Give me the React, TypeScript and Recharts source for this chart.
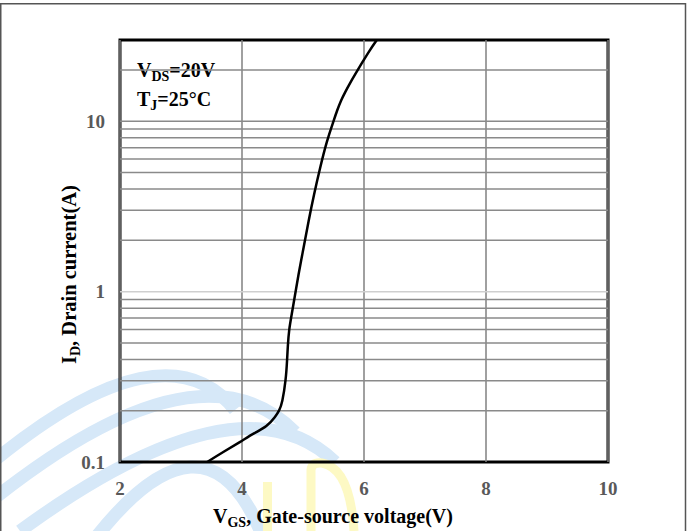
import React from 'react';
import { LineChart, Line, XAxis, YAxis, ReferenceLine, ReferenceArea } from 'recharts';

// Transfer characteristic: VGS (V) vs ID (A)
const vgs = [3.43, 3.7, 3.97, 4.2, 4.41, 4.55, 4.61, 4.66, 4.72, 4.74, 4.75, 4.77, 4.82, 4.93, 5.01, 5.09, 5.18, 5.28, 5.39, 5.5, 5.56, 5.62, 5.69, 5.76, 5.86, 5.97, 6.09, 6.21];
const idA = [0.1, 0.115, 0.131, 0.148, 0.161, 0.185, 0.2, 0.222, 0.304, 0.4, 0.474, 0.6, 0.75, 1.29, 1.81, 2.59, 3.72, 5.34, 7.66, 10, 11.6, 13.2, 14.8, 16.5, 19, 22.1, 26, 30];

const xTicks = [2, 4, 6, 8, 10];
const yTicks = [0.1, 1, 10];
const yGridDark = [0.2, 0.3, 0.4, 0.5, 0.6, 0.7, 0.8, 0.9, 2, 3, 4, 5, 6, 7, 8, 9, 10, 20];
const yGridLight = [1];

const data = vgs.map((v, i) => ({ v, id: idA[i] }));

const FONT = "'Liberation Serif', 'Times New Roman', serif";
const tickStyle = { fill: '#595959', fontWeight: 'bold' as const, fontSize: 19, fontFamily: FONT };

const XTitle = () => (
  <text x={213} y={523} fontFamily={FONT} fontWeight="bold" fontSize={20} fill="#000" textAnchor="start">
    V<tspan fontSize={14} dy={4}>GS</tspan>
    <tspan fontSize={20} dy={-4}>, Gate-source voltage(V)</tspan>
  </text>
);

const YTitle = () => (
  <text x={0} y={0} transform="translate(76,364) rotate(-90)" fontFamily={FONT} fontWeight="bold" fontSize={20.5} fill="#000" textAnchor="start">
    I<tspan fontSize={14} dy={4}>D</tspan>
    <tspan fontSize={20.5} dy={-4}>, Drain current(A)</tspan>
  </text>
);

const Annotation = () => (
  <g>
    <text x={137} y={77} fontFamily={FONT} fontWeight="bold" fontSize={20} fill="#000">
      V<tspan fontSize={14} dy={4}>DS</tspan>
      <tspan fontSize={20} dy={-4}>=20V</tspan>
    </text>
    <text x={137} y={106} fontFamily={FONT} fontWeight="bold" fontSize={20} fill="#000">
      T<tspan fontSize={14} dy={4}>J</tspan>
      <tspan fontSize={20} dy={-4}>=25°C</tspan>
    </text>
  </g>
);

export default function App() {
  return (
    <div style={{ position: 'absolute', left: 0, top: 0, width: 694, height: 531, overflow: 'hidden', background: '#fff' }}>
      <svg width={694} height={531} style={{ position: 'absolute', left: 0, top: 0 }}>
        <g fill="none" stroke="#d6e8f8" strokeWidth={13}>
          <path d="M -5 460 Q 165 322 235 410" />
          <path d="M -5 498 Q 200 336 295 432" />
          <path d="M 20 531 Q 240 370 335 462" />
          <path d="M 90 545 Q 205 394 262 535" />
        </g>
        <rect x={263} y={482} width={9} height={49} fill="#fdf9c4" />
        <path d="M 311 531 L 311 470 Q 312 462 322 463 Q 350 468 354 531" fill="none" stroke="#fdf9c4" strokeWidth={9} />
        <path d="M 0.75 540 L 0.75 3.75 L 685.5 3.75 L 685.5 540" fill="none" stroke="#555" strokeWidth={1.5} />
      </svg>
      <div style={{ position: 'absolute', left: 0, top: 0 }}>
        <LineChart width={694} height={531} data={data} margin={{ top: 40, right: 86, left: 0, bottom: 0 }}>
          <XAxis
            dataKey="v"
            type="number"
            domain={[2, 10]}
            ticks={xTicks}
            allowDataOverflow
            axisLine={false}
            tickLine={false}
            tickSize={6}
            tickMargin={14}
            height={69}
            tick={tickStyle}
            label={{ content: () => <XTitle /> }}
          />
          <YAxis
            dataKey="id"
            scale="log"
            domain={[0.1, 30]}
            ticks={yTicks}
            allowDataOverflow
            axisLine={false}
            tickLine={false}
            tickSize={6}
            tickMargin={9}
            width={120}
            tick={tickStyle}
            tickFormatter={(t: number) => String(t)}
            label={{ content: () => <YTitle /> }}
          />
          {xTicks.map((x) => (
            <ReferenceLine key={'vx' + x} x={x} stroke="#808080" strokeWidth={1.5} />
          ))}
          {yGridDark.map((y) => (
            <ReferenceLine key={'hy' + y} y={y} stroke="#8a8a8a" strokeWidth={1.5} />
          ))}
          {yGridLight.map((y) => (
            <ReferenceLine key={'hl' + y} y={y} stroke="#cfcfcf" strokeWidth={1.5} />
          ))}
          <Line
            dataKey="id"
            type="basis"
            stroke="#000"
            strokeWidth={2.5}
            dot={false}
            isAnimationActive={false}
          />
          <ReferenceArea
            x1={2}
            x2={10}
            y1={0.1}
            y2={30}
            fill="none"
            fillOpacity={0}
            stroke="#000"
            strokeWidth={3}
            ifOverflow="visible"
            label={{ content: () => <Annotation /> }}
          />
        </LineChart>
      </div>
    </div>
  );
}
